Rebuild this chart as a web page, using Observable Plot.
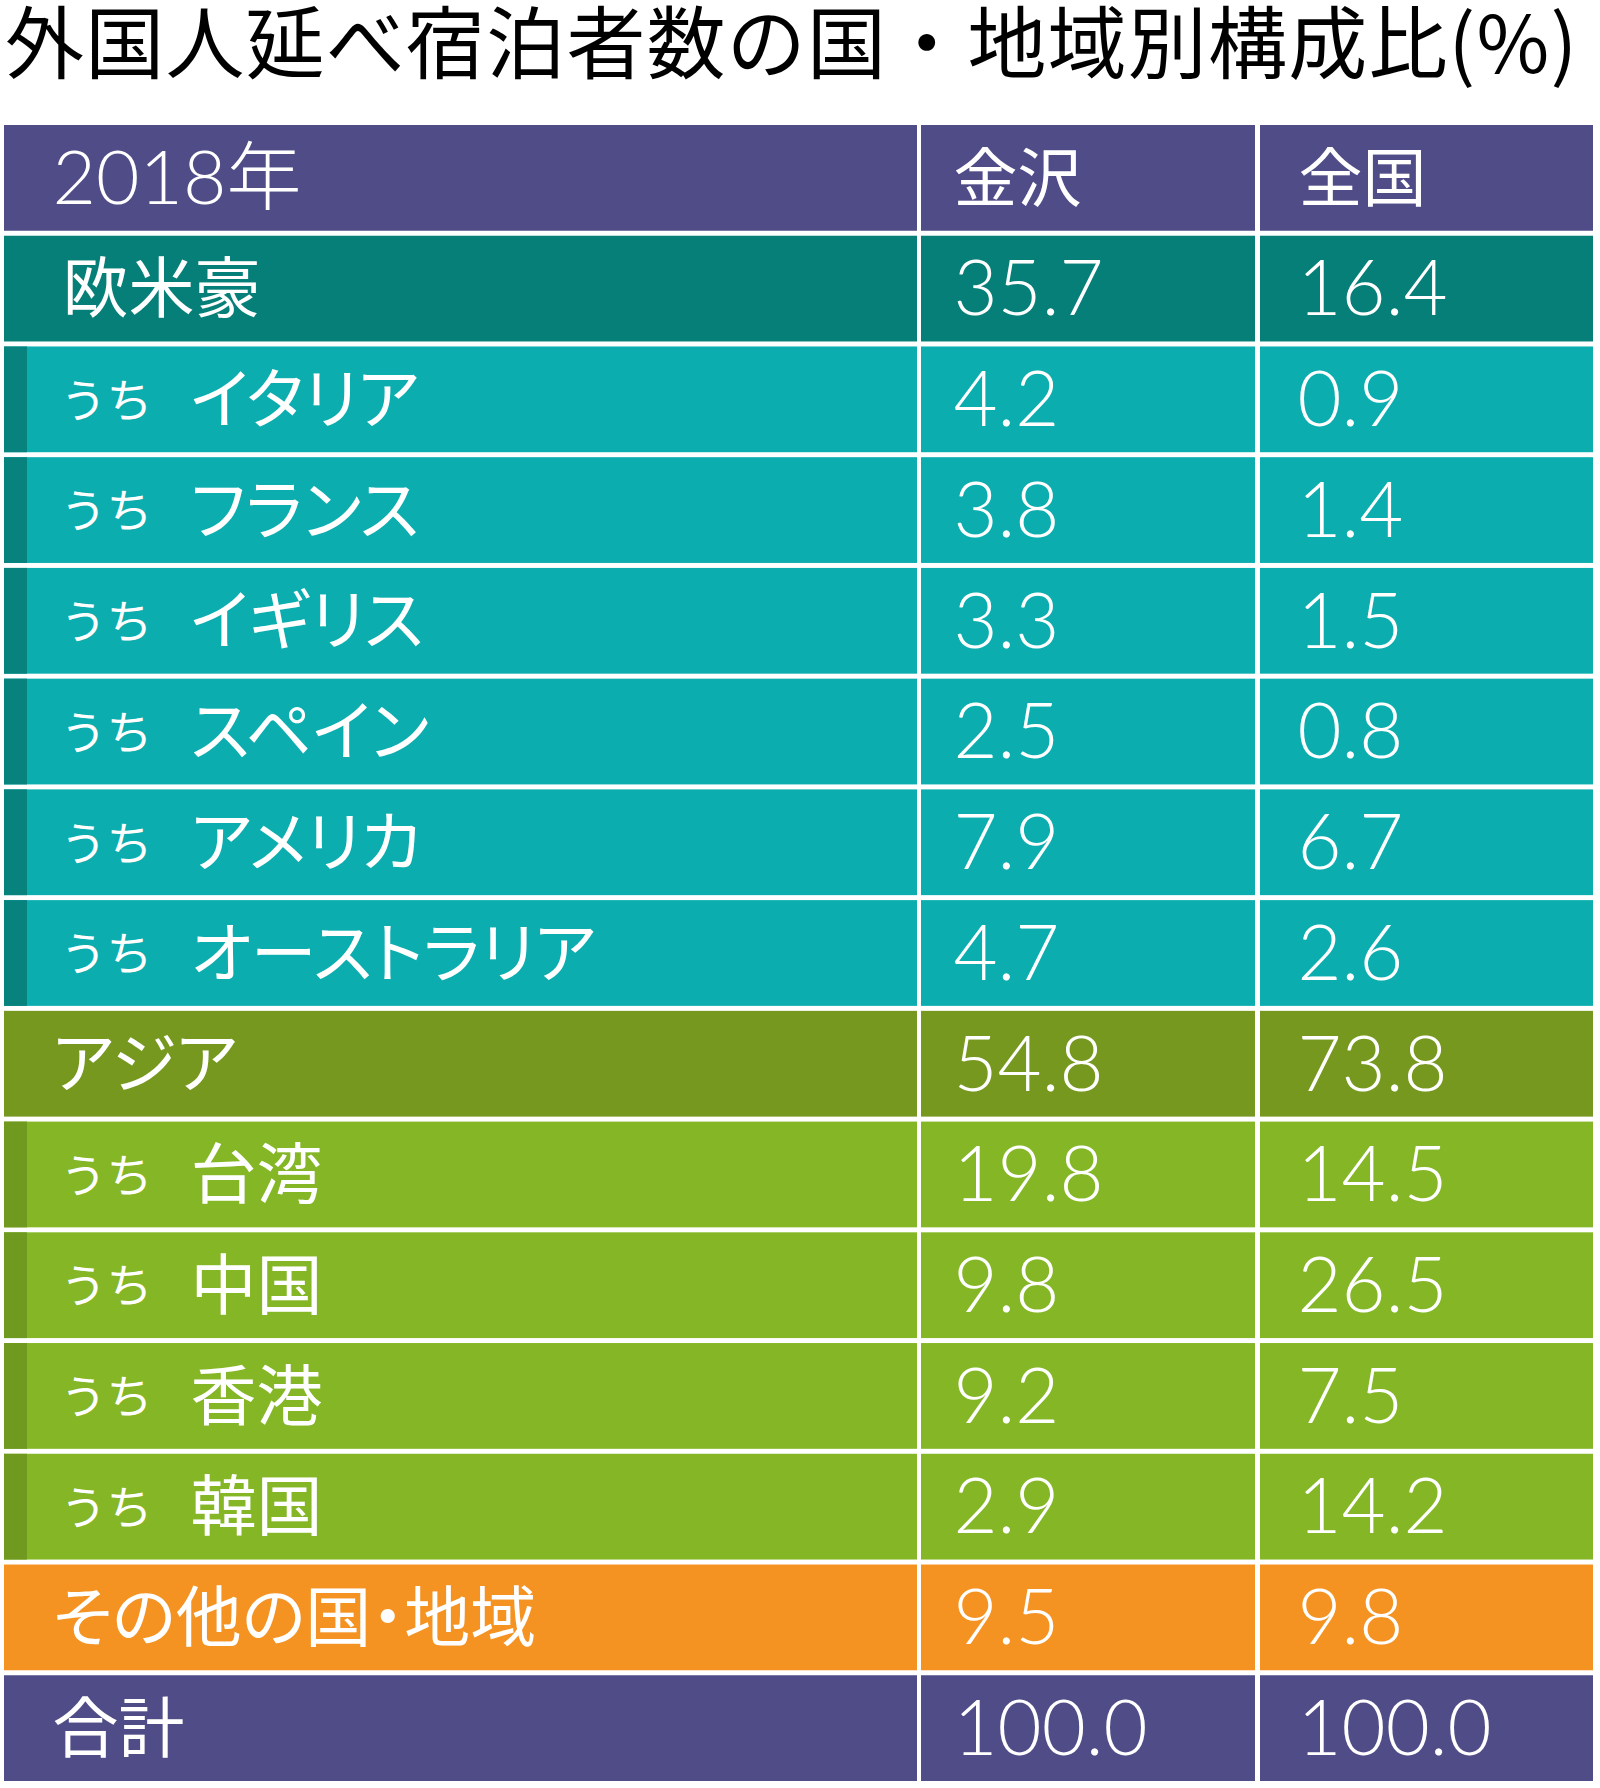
<!DOCTYPE html>
<html>
<head>
<meta charset="utf-8">
<script src="https://cdn.jsdelivr.net/npm/d3@7"></script>
<script src="https://cdn.jsdelivr.net/npm/@observablehq/plot@0.6"></script>
<style>
  html, body { margin: 0; padding: 0; background: #ffffff; }
  #title {
    height: 120px; box-sizing: border-box; padding-left: 5px; padding-top: 0;
    font-family: "Noto Sans CJK JP", sans-serif; font-size: 79px; line-height: 88px;
    letter-spacing: 1.2px; color: #000; white-space: nowrap;
  }
  #title span { position: relative; top: -5px; }
  #chart svg { display: block; }
</style>
</head>
<body>
<div id="title"><span></span></div>
<div id="chart"></div>
<script>
// ---- data ----
const titleText = "外国人延べ宿泊者数の国・地域別構成比(%)";
const headerLabels = ["2018年", "金沢", "全国"];
const rowLabels = ["欧米豪", "イタリア", "フランス", "イギリス", "スペイン", "アメリカ", "オーストラリア",
                   "アジア", "台湾", "中国", "香港", "韓国", "その他の国・地域", "合計"];
const rowKinds = ["euro", "euroSub", "euroSub", "euroSub", "euroSub", "euroSub", "euroSub",
                  "asia", "asiaSub", "asiaSub", "asiaSub", "asiaSub", "other", "total"];
const kanazawa = [35.7, 4.2, 3.8, 3.3, 2.5, 7.9, 4.7, 54.8, 19.8, 9.8, 9.2, 2.9, 9.5, 100.0];
const zenkoku  = [16.4, 0.9, 1.4, 1.5, 0.8, 6.7, 2.6, 73.8, 14.5, 26.5, 7.5, 14.2, 9.8, 100.0];
const subPrefix = "うち";

// ---- styling / layout ----
const fills = {header: "#4f4c87", euro: "#077f79", euroSub: "#0badaf", asia: "#76981f",
               asiaSub: "#84b626", other: "#f49322", total: "#4f4c87"};
const stripes = {euroSub: "#08827d", asiaSub: "#6f991f"};
const cols = [[4, 917], [921, 1255], [1260, 1593]];
const numFont = "Lato, 'Noto Sans CJK JP', sans-serif";
const cjkFont = "'Noto Sans CJK JP', sans-serif";

document.querySelector("#title span").textContent = titleText;

const rows = [{key: "r0", kind: "header", label: headerLabels[0], v1: headerLabels[1], v2: headerLabels[2]}]
  .concat(rowLabels.map((l, i) => ({
    key: "r" + (i + 1), kind: rowKinds[i], label: l,
    v1: kanazawa[i].toFixed(1), v2: zenkoku[i].toFixed(1)
  })));

const cells = rows.flatMap(r => cols.map(([x1, x2]) => ({row: r.key, x1, x2, fill: fills[r.kind]})));
const stripeCells = rows.filter(r => stripes[r.kind]).map(r => ({row: r.key, x1: cols[0][0], x2: 27, fill: stripes[r.kind]}));
const isSub = r => r.kind === "euroSub" || r.kind === "asiaSub";
const mainRows = rows.filter(r => !isSub(r) && r.kind !== "header");
const subRows = rows.filter(isSub);
const headerRow = rows.filter(r => r.kind === "header");
const dataRows = rows.filter(r => r.kind !== "header");

const chart = Plot.plot({
  width: 1600, height: 1668, margin: 0,
  style: {background: "transparent"},
  x: {type: "linear", domain: [0, 1600], range: [0, 1600], axis: null},
  y: {type: "band", domain: rows.map(r => r.key), range: [5, 1661], paddingInner: 0.045, paddingOuter: 0, round: false, axis: null},
  color: {type: "identity"},
  marks: [
    Plot.barX(cells, {x1: "x1", x2: "x2", y: "row", fill: "fill"}),
    Plot.barX(stripeCells, {x1: "x1", x2: "x2", y: "row", fill: "fill"}),
    // header
    Plot.text(headerRow, {x: () => 52, y: "key", text: "label", fill: "white", fontSize: 75, fontWeight: 300, fontFamily: numFont, textAnchor: "start", dy: 2}),
    Plot.text(headerRow, {x: () => 953, y: "key", text: "v1", fill: "white", fontSize: 64, fontFamily: cjkFont, textAnchor: "start", dy: 2}),
    Plot.text(headerRow, {x: () => 1298, y: "key", text: "v2", fill: "white", fontSize: 64, fontFamily: cjkFont, textAnchor: "start", dy: 2}),
    // main labels
    Plot.text(mainRows, {x: r => r.kind === "euro" ? 62 : 52, y: "key", text: "label", fill: "white", fontSize: 66, fontFamily: cjkFont, textAnchor: "start", dy: 2, className: "lbl"}),
    // sub labels
    Plot.text(subRows, {x: () => 60, y: "key", text: () => subPrefix, fill: "white", fontSize: 46, fontFamily: cjkFont, textAnchor: "start", dy: 2}),
    Plot.text(subRows, {x: () => 190, y: "key", text: "label", fill: "white", fontSize: 66, fontFamily: cjkFont, textAnchor: "start", dy: 2, className: "lbl"}),
    // numbers
    Plot.text(dataRows, {x: () => 953, y: "key", text: "v1", fill: "white", fontSize: 76, fontWeight: 300, fontFamily: numFont, textAnchor: "start", dy: 2}),
    Plot.text(dataRows, {x: () => 1297, y: "key", text: "v2", fill: "white", fontSize: 76, fontWeight: 300, fontFamily: numFont, textAnchor: "start", dy: 2})
  ]
});
// apply proportional kana spacing to the label texts
chart.querySelectorAll("g.lbl text, .lbl text, text.lbl").forEach(t => t.style.fontFeatureSettings = '"palt"');
document.getElementById("chart").appendChild(chart);
</script>
</body>
</html>
